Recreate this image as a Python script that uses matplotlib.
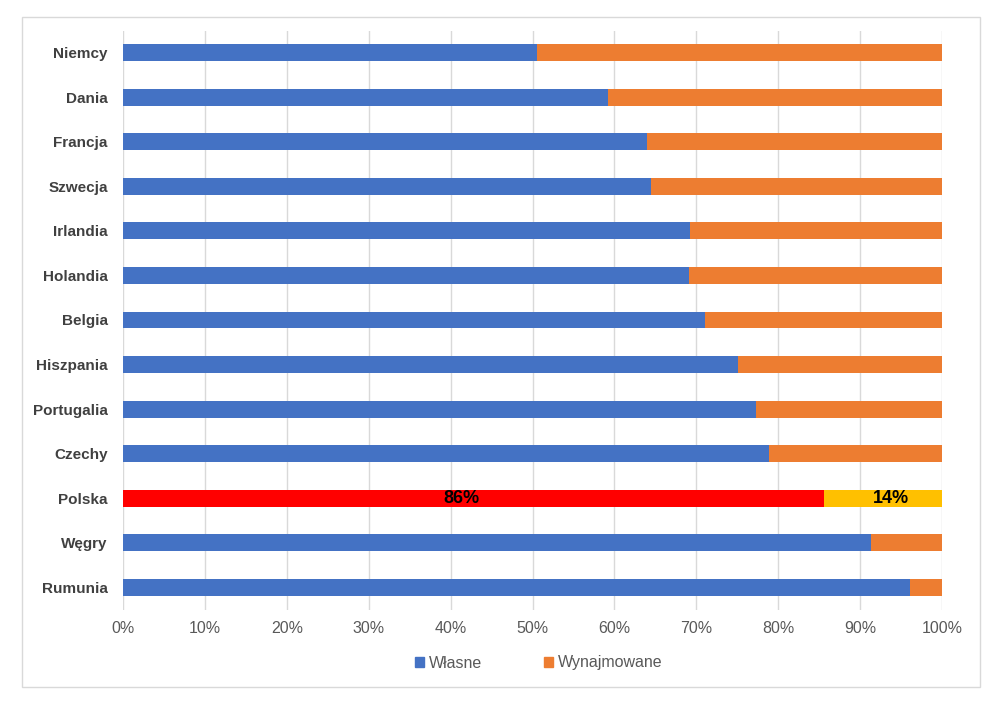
import matplotlib.pyplot as plt
from matplotlib.patches import Rectangle, Patch

plt.rcParams['font.family'] = ['Liberation Sans', 'DejaVu Sans']

countries = ['Niemcy', 'Dania', 'Francja', 'Szwecja', 'Irlandia', 'Holandia', 'Belgia',
             'Hiszpania', 'Portugalia', 'Czechy', 'Polska', 'Węgry', 'Rumunia']
wlasne = [50.5, 59.2, 64.0, 64.5, 69.2, 69.1, 71.1, 75.1, 77.3, 78.9, 85.6, 91.3, 96.1]
wynajmowane = [100 - v for v in wlasne]

highlight = 'Polska'
blue = '#4472C4'
orange = '#ED7D31'

fig = plt.figure(figsize=(10.07, 7.06), dpi=100)
fig.patches.append(Rectangle((22 / 1007, 1 - 687 / 706), 958 / 1007, 670 / 706,
                             transform=fig.transFigure, fill=False,
                             edgecolor='#D9D9D9', linewidth=1))
ax = fig.add_axes([123 / 1007, 1 - 609.5 / 706, 819 / 1007, 579 / 706])

y = list(range(len(countries)))
c1 = ['#FF0000' if c == highlight else blue for c in countries]
c2 = ['#FFC000' if c == highlight else orange for c in countries]
ax.barh(y, wlasne, height=0.38, color=c1, zorder=3)
ax.barh(y, wynajmowane, left=wlasne, height=0.38, color=c2, zorder=3)

i = countries.index(highlight)
ax.text(wlasne[i] / 2 - 1.5, i, '%d%%' % round(wlasne[i]), ha='center', va='center',
        fontsize=13, fontweight='bold', color='black', zorder=4)
ax.text(wlasne[i] + wynajmowane[i] / 2 + 1, i, '%d%%' % round(wynajmowane[i]),
        ha='center', va='center', fontsize=13, fontweight='bold', color='black', zorder=4)

ax.set_xlim(0, 100)
ax.set_ylim(len(countries) - 0.5, -0.5)
ax.set_xticks(range(0, 101, 10))
ax.set_xticklabels(['%d%%' % t for t in range(0, 101, 10)], fontsize=11.5, color='#595959')
ax.set_yticks(y)
ax.set_yticklabels(countries, fontsize=11, fontweight='bold', color='#404040')
ax.tick_params(length=0, pad=8)
ax.tick_params(axis='y', pad=11)
ax.grid(axis='x', color='#D9D9D9', linewidth=1, zorder=0)
for s in ax.spines.values():
    s.set_visible(False)

handles = [Patch(color=blue, label='Własne'), Patch(color=orange, label='Wynajmowane')]
fig.legend(handles=handles, loc='center', bbox_to_anchor=(539 / 1007, 1 - 663 / 706),
           ncol=2, frameon=False, fontsize=11.5, handlelength=0.55, handleheight=0.55,
           columnspacing=3.9, handletextpad=0.3, labelcolor='#595959')

fig.savefig('out.png', dpi=100)
